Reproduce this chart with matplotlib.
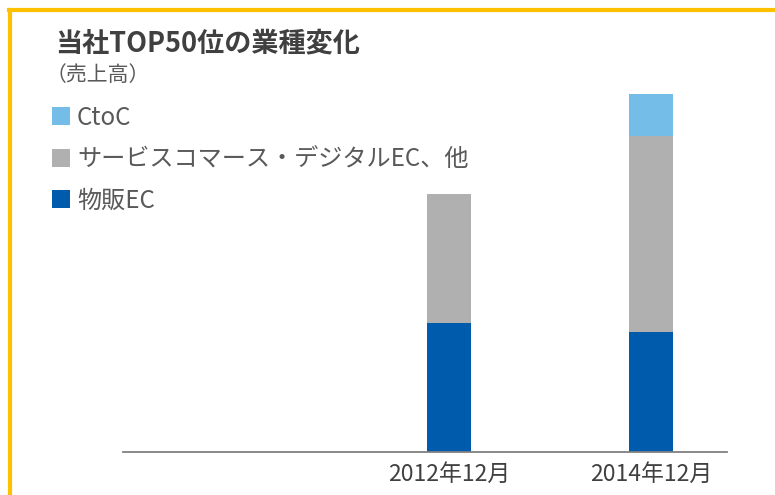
import matplotlib
matplotlib.use("Agg")
import matplotlib.pyplot as plt
from matplotlib.lines import Line2D
import numpy as np

plt.rcParams['font.family'] = ['Noto Sans CJK JP', 'DejaVu Sans']

#-------data-------
periods = ["2012年12月", "2014年12月"]
butsuhan_ec = [129, 120]      # 物販EC
service_ec = [129, 196]       # サービスコマース・デジタルEC、他
ctoc = [0, 42]                # CtoC
series_names = ["物販EC", "サービスコマース・デジタルEC、他", "CtoC"]

#-------style-------
c_blue = "#005BAC"
c_gray = "#B0B0B0"
c_light = "#75BDE9"
c_text = "#595959"

fig = plt.figure(figsize=(7.75, 4.95), dpi=100)
W, H = 775, 495
ax = fig.add_axes([123 / W, (H - 452) / H, (727 - 123) / W, (452 - 80) / H])

x = np.arange(1, len(periods) + 1)
width = 0.218
bottom2 = np.array(butsuhan_ec)
bottom3 = bottom2 + np.array(service_ec)
b1 = ax.bar(x, butsuhan_ec, width, color=c_blue, label=series_names[0])
b2 = ax.bar(x, service_ec, width, bottom=bottom2, color=c_gray, label=series_names[1])
b3 = ax.bar(x, ctoc, width, bottom=bottom3, color=c_light, label=series_names[2])

ax.set_xlim(-0.614, 2.376)
ax.set_ylim(0, 372)
for s in ["top", "right", "left"]:
    ax.spines[s].set_visible(False)
ax.spines["bottom"].set_color("#808080")
ax.spines["bottom"].set_linewidth(1.3)
ax.set_yticks([])
ax.set_xticks(x)
ax.set_xticklabels(periods, fontsize=16.5, color="#404040")
ax.tick_params(axis="x", length=0, pad=8)

# legend (reverse order, as in the reference)
leg = fig.legend(handles=[b3, b2, b1], labels=series_names[::-1],
                 loc="upper left", bbox_to_anchor=(42 / W, 1 - 95 / H),
                 frameon=False, fontsize=17.4, handlelength=0.75,
                 handleheight=0.75, handletextpad=0.3, labelspacing=0.64,
                 borderaxespad=0)
for t in leg.get_texts():
    t.set_color(c_text)

# title
fig.text(55 / W, 1 - 43 / H, "当社TOP50位の業種変化", fontsize=19.5,
         fontweight="bold", color="#404040", va="center")
fig.text(46 / W, 1 - 75 / H, "（売上高）", fontsize=15, color=c_text, va="center")

# yellow frame
fig.add_artist(Line2D([10 / W, 10 / W], [0, 1 - 10 / H], transform=fig.transFigure,
                      color="#FFC000", linewidth=3))
fig.add_artist(Line2D([8.5 / W, 1], [1 - 10 / H, 1 - 10 / H], transform=fig.transFigure,
                      color="#FFC000", linewidth=3))

fig.savefig("out.png", dpi=100)
